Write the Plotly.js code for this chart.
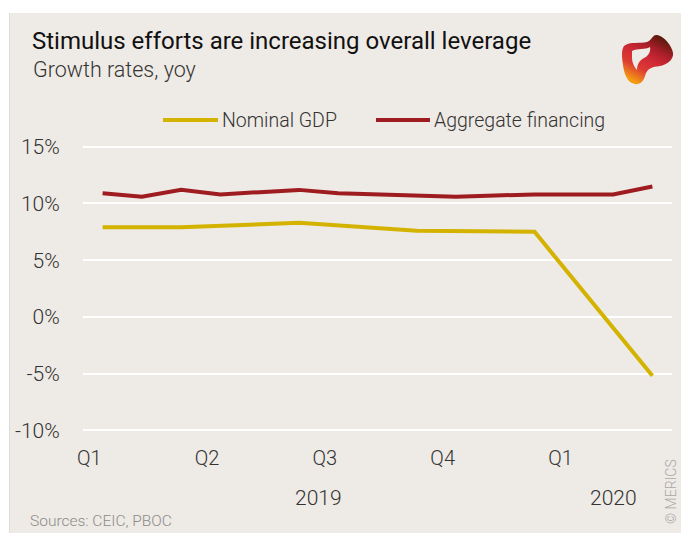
<!DOCTYPE html>
<html>
<head>
<meta charset="utf-8">
<script src="https://cdn.plot.ly/plotly-3.0.1.min.js"></script>
<style>
  html, body { margin: 0; padding: 0; background: #ffffff; width: 681px; height: 533px; overflow: hidden; }
  #chart { position: absolute; left: 9px; top: 13px; width: 671px; height: 520px; border-left: 1px solid #dcdcdc; }
</style>
</head>
<body>
<div id="chart"></div>
<script>
// ---- data ----
const months = ['2019-01','2019-02','2019-03','2019-04','2019-05','2019-06','2019-07','2019-08','2019-09','2019-10','2019-11','2019-12','2020-01','2020-02','2020-03'];
const financingGrowth = [10.9, 10.6, 11.2, 10.8, 11.0, 11.2, 10.9, 10.8, 10.7, 10.6, 10.7, 10.8, 10.8, 10.8, 11.5];
const gdpMonths = ['2019-01','2019-03','2019-06','2019-09','2019-12','2020-03'];
const gdpGrowth = [7.9, 7.9, 8.3, 7.6, 7.5, -5.2];
const quarterStarts = ['2019-01','2019-04','2019-07','2019-10','2020-01'];
const quarterLabels = ['Q1','Q2','Q3','Q4','Q1'];
const yearLabels = ['2019','2020'];
const yTicks = [-10, -5, 0, 5, 10, 15];
const seriesNames = ['Nominal GDP', 'Aggregate financing'];

// ---- helpers ----
const idx = m => months.indexOf(m);
const FONT = 'Roboto, "Liberation Sans", sans-serif';
const LIGHT = 300;
const GDP_COLOR = '#D4B300';
const AF_COLOR = '#9E1B20';
const BG = '#EEEAE5';
const TXT = '#333333';
const M = {l: 73, r: 9, t: 127, b: 96};
const W = 671, H = 520;
const PW = W - M.l - M.r, PH = H - M.t - M.b;
const px = X => (X - 10 - M.l) / PW;           // page x -> paper x
const py = Y => (H - M.b - (Y - 13)) / PH;      // page y -> paper y

// year label centres: middle of each year's months
const yearCenters = yearLabels.map(y => {
  const ii = months.map((m, i) => m.startsWith(y) ? i : -1).filter(i => i >= 0);
  return (ii[0] + ii[ii.length - 1]) / 2;
});

const traces = [
  {
    x: gdpMonths.map(idx), y: gdpGrowth, name: seriesNames[0], type: 'scatter', mode: 'lines',
    line: {color: GDP_COLOR, width: 4}, hoverinfo: 'skip'
  },
  {
    x: months.map((m, i) => i), y: financingGrowth, name: seriesNames[1], type: 'scatter', mode: 'lines',
    line: {color: AF_COLOR, width: 4}, hoverinfo: 'skip'
  }
];

const logoSvg = `<svg xmlns="http://www.w3.org/2000/svg" viewBox="0 0 81 80" width="81" height="80">
<defs><linearGradient id="g" x1="0.85" y1="0.1" x2="0.35" y2="1">
<stop offset="0" stop-color="#5A1A0C"/><stop offset="0.25" stop-color="#A81E28"/>
<stop offset="0.5" stop-color="#D22A36"/><stop offset="0.72" stop-color="#DC3A34"/>
<stop offset="1" stop-color="#F49A10"/></linearGradient></defs>
<path fill="url(#g)" fill-rule="evenodd" d="M 24,26 C 30,21 40,24 47,22 C 52,20 53,14 57,15 C 64,16 72,26 73,33 C 74,40 66,45 60,46 C 52,47 47,48 45,56 C 43,63 38,66 32,63 C 26,60 24,52 23,45 C 22,38 21,30 24,26 Z M 32,31 C 38,28 45,30 50,27 C 51,32 48,36 44,38 C 40,40 37,44 37,50 C 34,47 32,42 32,38 Z"/>
</svg>`;

const layout = {
  width: W, height: H,
  margin: M,
  paper_bgcolor: BG, plot_bgcolor: BG,
  showlegend: false,
  font: {family: FONT, size: 20, color: TXT, weight: LIGHT},
  title: {
    text: 'Stimulus efforts are increasing overall leverage',
    xref: 'container', yref: 'container',
    x: 22 / W, y: 1 - 28 / H, xanchor: 'left', yanchor: 'middle',
    font: {family: FONT, size: 24, color: '#111111', weight: 400}
  },
  xaxis: {
    range: [-0.5, months.length - 0.5],
    showgrid: false, zeroline: false, showline: false,
    tickmode: 'array',
    tickvals: quarterStarts.map(q => idx(q) - 0.34),
    ticktext: quarterLabels,
    ticks: 'outside', ticklen: 3, tickcolor: 'rgba(0,0,0,0)',
    tickfont: {family: FONT, size: 20, color: TXT, weight: LIGHT},
    fixedrange: true
  },
  yaxis: {
    range: [-10.6, 15.6],
    tickmode: 'array',
    tickvals: yTicks,
    ticktext: yTicks.map(v => v + '%'),
    showgrid: true, gridcolor: '#ffffff', gridwidth: 2,
    zeroline: false, showline: false,
    ticks: 'outside', ticklen: 18, tickcolor: 'rgba(0,0,0,0)',
    tickfont: {family: FONT, size: 21, color: TXT, weight: LIGHT},
    fixedrange: true
  },
  shapes: [
    {type: 'line', xref: 'paper', yref: 'paper', x0: px(163), x1: px(218), y0: py(120), y1: py(120),
     line: {color: GDP_COLOR, width: 4}},
    {type: 'line', xref: 'paper', yref: 'paper', x0: px(376), x1: px(430), y0: py(120), y1: py(120),
     line: {color: AF_COLOR, width: 4}}
  ],
  annotations: [
    {text: 'Growth rates, yoy', xref: 'paper', yref: 'paper', x: px(31), y: py(70),
     xanchor: 'left', yanchor: 'middle', showarrow: false,
     font: {family: FONT, size: 21.5, color: '#333333', weight: LIGHT}},
    {text: seriesNames[0], xref: 'paper', yref: 'paper', x: px(220), y: py(120),
     xanchor: 'left', yanchor: 'middle', showarrow: false,
     font: {family: FONT, size: 19.5, color: TXT, weight: LIGHT}},
    {text: seriesNames[1], xref: 'paper', yref: 'paper', x: px(432), y: py(120),
     xanchor: 'left', yanchor: 'middle', showarrow: false,
     font: {family: FONT, size: 19.5, color: TXT, weight: LIGHT}},
    ...yearLabels.map((y, i) => ({
      text: y, xref: 'x', yref: 'paper', x: yearCenters[i], y: py(498),
      xanchor: 'center', yanchor: 'middle', showarrow: false,
      font: {family: FONT, size: 21, color: TXT, weight: LIGHT}
    })),
    {text: 'Sources: CEIC, PBOC', xref: 'paper', yref: 'paper', x: px(28), y: py(521),
     xanchor: 'left', yanchor: 'middle', showarrow: false,
     font: {family: FONT, size: 15.5, color: '#8c8c8c', weight: LIGHT}},
    {text: '© MERICS', xref: 'paper', yref: 'paper', x: px(671), y: py(492),
     xanchor: 'center', yanchor: 'middle', textangle: -90, showarrow: false,
     font: {family: FONT, size: 14, color: '#a8a8a8', weight: LIGHT}}
  ],
  images: [
    {source: 'data:image/svg+xml;charset=utf-8,' + encodeURIComponent(logoSvg),
     xref: 'paper', yref: 'paper', x: px(600), y: py(20), sizex: 81 / PW, sizey: 80 / PH,
     xanchor: 'left', yanchor: 'top', sizing: 'stretch', layer: 'above'}
  ]
};

Plotly.newPlot('chart', traces, layout, {displayModeBar: false, staticPlot: true});
</script>
</body>
</html>
